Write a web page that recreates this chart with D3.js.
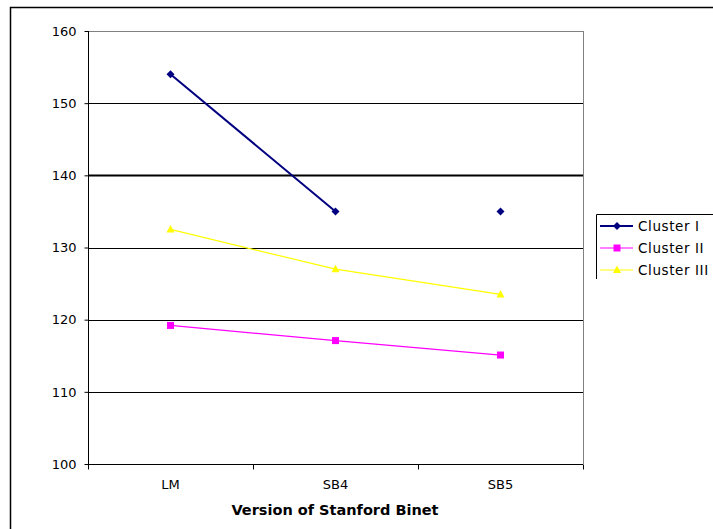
<!DOCTYPE html>
<html>
<head>
<meta charset="utf-8">
<script src="https://cdn.jsdelivr.net/npm/d3@7"></script>
<style>
  body { margin: 0; background: #fff; }
  text { font-family: "DejaVu Sans", Verdana, sans-serif; }
</style>
</head>
<body>
<svg width="713" height="529"></svg>
<script>
const versions = ['LM', 'SB4', 'SB5'];
const seriesNames = ['Cluster I', 'Cluster II', 'Cluster III'];
const cluster1 = [154, 135, 135];
const cluster2 = [119.2, 117.1, 115.1];
const cluster3 = [132.5, 127, 123.5];
const yTicks = [100, 110, 120, 130, 140, 150, 160];

const series = [
  { name: seriesNames[0], values: cluster1, color: '#000080', width: 2, shape: 'diamond', breakAfter: 1 },
  { name: seriesNames[1], values: cluster2, color: '#ff00ff', width: 1.2, shape: 'square' },
  { name: seriesNames[2], values: cluster3, color: '#ffff00', width: 1.2, shape: 'triangle' }
];

const svg = d3.select('svg');
const plotL = 88, plotR = 583, plotT = 31, plotB = 464;

// outer frame, runs off the canvas on right and bottom
svg.append('path')
  .attr('d', `M10.5,${529} V7.5 H713`)
  .attr('fill', 'none').attr('stroke', '#000').attr('stroke-width', 1.5);

const x = d3.scaleBand().domain(versions).range([plotL, plotR]);
const y = d3.scaleLinear().domain([100, 160]).range([plotB, plotT]);

// gridlines
svg.selectAll('.grid')
  .data(yTicks.filter(d => d > 100))
  .enter().append('line')
  .attr('x1', plotL).attr('x2', plotR)
  .attr('y1', d => Math.round(y(d)) + 0.5).attr('y2', d => Math.round(y(d)) + 0.5)
  .attr('stroke', d => d === 160 ? '#808080' : '#000')
  .attr('stroke-width', d => d === 140 ? 2 : 1);

// right border of plot area
svg.append('line')
  .attr('x1', plotR + 0.5).attr('x2', plotR + 0.5)
  .attr('y1', plotT).attr('y2', plotB)
  .attr('stroke', '#808080');

// y axis
const yAxis = svg.append('g')
  .attr('transform', `translate(${plotL + 0.5},0)`)
  .call(d3.axisLeft(y).tickValues(yTicks).tickSize(4).tickPadding(8));
yAxis.select('.domain').attr('stroke', '#000').attr('d', `M0,${plotT}V${plotB}`);
yAxis.selectAll('.tick line').attr('stroke', '#000');
yAxis.selectAll('.tick text').attr('font-size', 13).attr('fill', '#000');

// x axis
const xAxis = svg.append('g')
  .attr('transform', `translate(0,${plotB + 0.5})`)
  .call(d3.axisBottom(x).tickSize(0).tickPadding(15));
xAxis.select('.domain').attr('stroke', '#000').attr('d', `M${plotL},0H${plotR}`);
xAxis.selectAll('.tick text').attr('font-size', 13).attr('fill', '#000');
const bounds = versions.map(v => x(v)).concat([plotR]);
xAxis.selectAll('.xtick')
  .data(bounds)
  .enter().append('line')
  .attr('x1', d => Math.round(d) + 0.5).attr('x2', d => Math.round(d) + 0.5)
  .attr('y1', 0).attr('y2', 5)
  .attr('stroke', '#000');

svg.append('text')
  .attr('x', 335).attr('y', 515)
  .attr('text-anchor', 'middle')
  .attr('font-size', 14.5).attr('font-weight', 'bold')
  .text('Version of Stanford Binet');

const cx = v => x(v) + x.bandwidth() / 2;

function marker(g, shape, color) {
  if (shape === 'diamond') {
    g.append('path').attr('d', 'M0,-4L4,0L0,4L-4,0Z').attr('fill', color);
  } else if (shape === 'square') {
    g.append('rect').attr('x', -3.5).attr('y', -3.5).attr('width', 7).attr('height', 7).attr('fill', color);
  } else {
    g.append('path').attr('d', 'M0,-4.5L4,3L-4,3Z').attr('fill', color);
  }
}

const line = d3.line()
  .x(d => cx(d.v))
  .y(d => y(d.val));

series.forEach(s => {
  const pts = versions.map((v, i) => ({ v, val: s.values[i] }));
  // Cluster I has no segment drawn between SB4 and SB5
  const seg = s.breakAfter != null ? pts.slice(0, s.breakAfter + 1) : pts;
  svg.append('path')
    .datum(seg)
    .attr('d', line)
    .attr('fill', 'none')
    .attr('stroke', s.color)
    .attr('stroke-width', s.width);
  pts.forEach(p => {
    const g = svg.append('g').attr('transform', `translate(${cx(p.v)},${y(p.val)})`);
    marker(g, s.shape, s.color);
  });
});

// legend, cut off by the canvas edge
const lg = svg.append('g');
lg.append('path')
  .attr('d', 'M596.5,279 V214.5 H713')
  .attr('fill', 'none').attr('stroke', '#000').attr('stroke-width', 1);
series.forEach((s, i) => {
  const yy = 226 + i * 22;
  lg.append('line')
    .attr('x1', 600).attr('x2', 633)
    .attr('y1', yy).attr('y2', yy)
    .attr('stroke', s.color).attr('stroke-width', s.width);
  marker(lg.append('g').attr('transform', `translate(617,${yy})`), s.shape, s.color);
  lg.append('text')
    .attr('x', 638).attr('y', yy + 5)
    .attr('font-size', 13.5).attr('letter-spacing', 0.6).attr('fill', '#000')
    .text(s.name);
});
</script>
</body>
</html>
